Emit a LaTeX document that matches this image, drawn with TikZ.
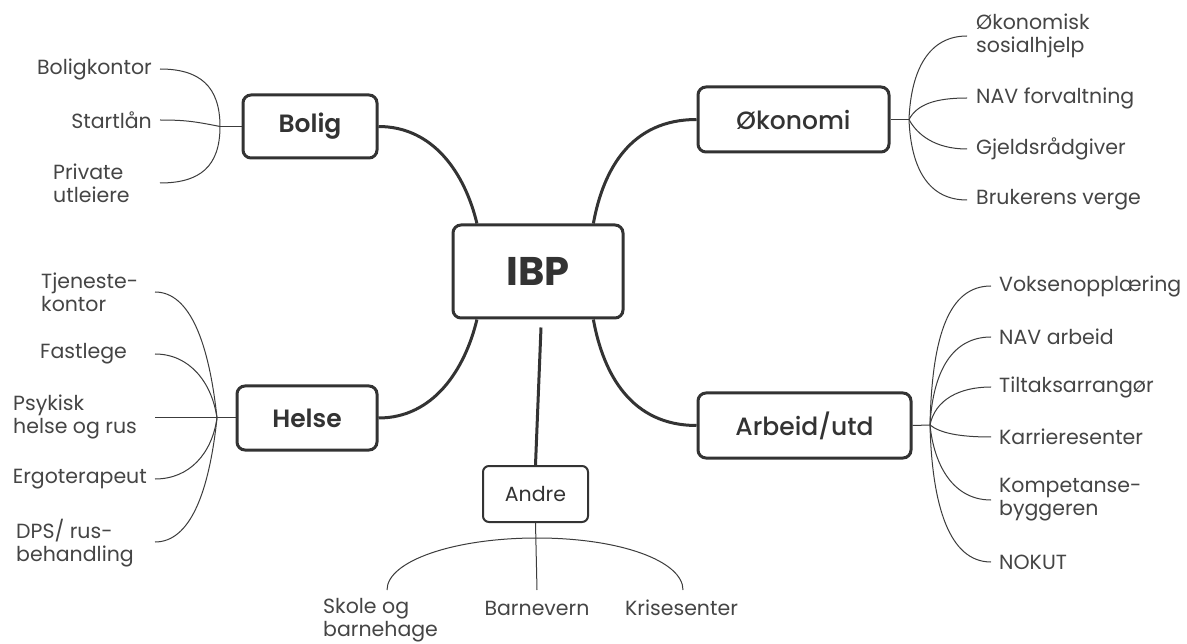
\documentclass[tikz,border=0pt]{standalone}
\usepackage{fontspec}
\setmainfont{Poppins}
\newfontfamily\medfont{Poppins Medium}
\newfontfamily\semifont{Poppins SemiBold}
\usetikzlibrary{calc}
\definecolor{ink}{HTML}{333333}
\definecolor{txt}{HTML}{454545}
\definecolor{thinink}{HTML}{3C3C3C}
\begin{document}
\begin{tikzpicture}[x=1pt,y=-1pt,
  hub/.style={draw=ink, line width=3pt, rounded corners=8pt, fill=white, text=ink, inner sep=0pt,
    font=\fontsize{25}{30}\medfont},
  semihub/.style={hub, font=\fontsize{25}{30}\semifont},
  subhub/.style={draw=ink, line width=2pt, rounded corners=6pt, fill=white, text=ink, inner sep=0pt,
    font=\fontsize{20.5}{24}\selectfont},
  leaf/.style={text=txt, inner sep=0pt, font=\fontsize{20.5}{23}\selectfont},
  thickline/.style={draw=ink, line width=3pt},
  thinline/.style={draw=thinink, line width=1pt}]
\fill[white] (0,0) rectangle (1187,644);
\useasboundingbox (0,0) rectangle (1187,644);

% main boxes
\node[hub, minimum width=170pt, minimum height=93pt, font=\fontsize{40}{44}\selectfont\bfseries] (ibp) at (538,271.5) {IBP};
\node[semihub, minimum width=134pt, minimum height=63pt] (bolig) at (310,126.5) {Bolig};
\node[hub, minimum width=191pt, minimum height=65pt] (okon) at (793.5,119.5) {Økonomi};
\node[semihub, minimum width=140pt, minimum height=64pt] (helse) at (307,418) {Helse};
\node[hub, minimum width=213pt, minimum height=65pt] (arb) at (804.5,425.5) {Arbeid/utd};
\node[subhub, minimum width=105pt, minimum height=56pt] (andre) at (535.5,494) {Andre};

% thick connectors
\draw[thickline] (bolig.east) .. controls +(55,0) and +(-12,-50) .. ($(ibp.north west)!0.147!(ibp.north east)$);
\draw[thickline] (okon.west) .. controls +(-65,0) and +(10,-55) .. ($(ibp.north west)!0.82!(ibp.north east)$);
\draw[thickline] (helse.east) .. controls +(55,0) and +(-12,50) .. ($(ibp.south west)!0.147!(ibp.south east)$);
\draw[thickline] (arb.west) .. controls +(-65,0) and +(10,55) .. ($(ibp.south west)!0.82!(ibp.south east)$);
\draw[thickline] ($(ibp.south)+(3,8)$) -- (andre.north);

% Bolig fan
\coordinate (bf) at (220,126.5);
\coordinate (bk) at (160,69);
\coordinate (sl) at (160,120);
\coordinate (pu) at (160,183);
\draw[thinline] (bolig.west) -- (bf);
\draw[thinline] (bf) .. controls +(0,-40) and +(40,0) .. (bk);
\draw[thinline] (bf) .. controls +(-25,-5) and +(25,0) .. (sl);
\draw[thinline] (bf) .. controls +(0,40) and +(40,0) .. (pu);
\node[leaf, anchor=east] (lbk) at (152,69) {Boligkontor};
\node[leaf, anchor=east] (lsl) at (152,120) {Startlån};
\node[leaf, anchor=west, align=left] (lpu) at (53,183) {Private\\utleiere};

% Okonomi fan
\coordinate (of) at (909,119.5);
\coordinate (o1) at (967,36);
\coordinate (o2) at (967,98);
\coordinate (o3) at (967,149);
\coordinate (o4) at (967,200);
\draw[thinline] (okon.east) -- (of);
\draw[thinline] (of) .. controls +(2,-50) and +(-38,0) .. (o1);
\draw[thinline] (of) .. controls +(8,-15) and +(-32,0) .. (o2);
\draw[thinline] (of) .. controls +(8,15) and +(-32,0) .. (o3);
\draw[thinline] (of) .. controls +(2,50) and +(-38,0) .. (o4);
\node[leaf, anchor=west, align=left] (lo1) at (976,36) {Økonomisk\\sosialhjelp};
\node[leaf, anchor=west] (lo2) at (976,98) {NAV forvaltning};
\node[leaf, anchor=west] (lo3) at (976,149) {Gjeldsrådgiver};
\node[leaf, anchor=west] (lo4) at (976,200) {Brukerens verge};

% Helse fan
\coordinate (hf) at (217,418);
\coordinate (h1) at (155,292);
\coordinate (h2) at (155,354);
\coordinate (h3) at (155,418);
\coordinate (h4) at (155,479);
\coordinate (h5) at (155,542);
\draw[thinline] (helse.west) -- (hf);
\draw[thinline] (hf) .. controls +(-8,-75) and +(35,0) .. (h1);
\draw[thinline] (hf) .. controls +(-5,-35) and +(35,0) .. (h2);
\draw[thinline] (hf) -- (h3);
\draw[thinline] (hf) .. controls +(-5,35) and +(35,0) .. (h4);
\draw[thinline] (hf) .. controls +(-8,75) and +(35,0) .. (h5);
\node[leaf, anchor=west, align=left] (lh1) at (41,292) {Tjeneste-\\kontor};
\node[leaf, anchor=west] (lh2) at (40,354) {Fastlege};
\node[leaf, anchor=west, align=left] (lh3) at (13,417) {Psykisk\\helse og rus};
\node[leaf, anchor=east] (lh4) at (147,479) {Ergoterapeut};
\node[leaf, anchor=west, align=left] (lh5) at (16,543) {DPS/ rus-\\behandling};

% Arbeid fan
\coordinate (af) at (930,425);
\coordinate (a1) at (991,286);
\coordinate (a2) at (991,337);
\coordinate (a3) at (991,387);
\coordinate (a4) at (991,437);
\coordinate (a5) at (991,500);
\coordinate (a6) at (991,562);
\draw[thinline] (arb.east) -- (af);
\draw[thinline] (af) .. controls +(2,-90) and +(-42,0) .. (a1);
\draw[thinline] (af) .. controls +(3,-55) and +(-38,0) .. (a2);
\draw[thinline] (af) .. controls +(5,-25) and +(-32,0) .. (a3);
\draw[thinline] (af) .. controls +(10,8) and +(-32,0) .. (a4);
\draw[thinline] (af) .. controls +(4,40) and +(-38,0) .. (a5);
\draw[thinline] (af) .. controls +(2,80) and +(-42,0) .. (a6);
\node[leaf, anchor=west] (la1) at (999,286) {Voksenopplæring};
\node[leaf, anchor=west] (la2) at (999,337) {NAV arbeid};
\node[leaf, anchor=west] (la3) at (999,387) {Tiltaksarrangør};
\node[leaf, anchor=west] (la4) at (999,437) {Karrieresenter};
\node[leaf, anchor=west, align=left] (la5) at (999,500) {Kompetanse-\\byggeren};
\node[leaf, anchor=west] (la6) at (999,562) {NOKUT};

% Andre fan
\coordinate (ag) at (537,538);
\coordinate (sk) at (387,590);
\coordinate (bv) at (537,590);
\coordinate (ks) at (683,590);
\draw[thinline] (andre.south) -- (bv);
\draw[thinline] (ag) .. controls +(-83,0) and +(0,-29) .. (sk);
\draw[thinline] (ag) .. controls +(83,0) and +(0,-29) .. (ks);
\node[leaf, anchor=west, align=left] (lsk) at (323,620) {Skole og\\barnehage};
\node[leaf] (lbv) at (537,608) {Barnevern};
\node[leaf, anchor=west] (lks) at (625,608) {Krisesenter};
\end{tikzpicture}
\end{document}
